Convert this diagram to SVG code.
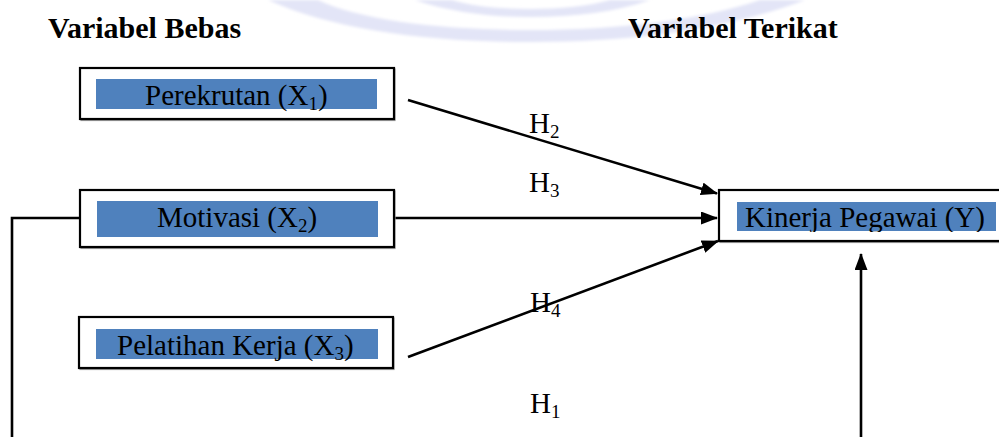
<svg xmlns="http://www.w3.org/2000/svg" width="999" height="437" viewBox="0 0 999 437">
  <style>
    .bg { fill: #ffffff; }
    .mark { fill: #e3e5f7; }
    .head { font-family: "Liberation Serif", "Times New Roman", serif; font-weight: bold; font-size: 30px; fill: #000; }
    .lbl { font-family: "Liberation Serif", "Times New Roman", serif; font-size: 29px; fill: #000; }
    .sub { font-size: 19px; }
    .frame { fill: #ffffff; stroke: #000; stroke-width: 2.2; }
    .shade { fill: none; stroke: #9a9a9a; stroke-width: 1.2; }
    .band { fill: #4f81bd; }
    .wire { fill: none; stroke: #000; stroke-width: 2.6; }
  </style>
  <defs>
    <marker id="arrow" markerUnits="userSpaceOnUse" markerWidth="18" markerHeight="14" refX="16" refY="6.5" orient="auto">
      <path d="M0,0 L17,6.5 L0,13 z" fill="#000"/>
    </marker>
    <clipPath id="clipY">
      <rect x="737" y="195" width="262" height="37"/>
    </clipPath>
    <filter id="soft" x="-5%" y="-20%" width="110%" height="140%">
      <feGaussianBlur stdDeviation="1.5"/>
    </filter>
  </defs>

  <rect class="bg" x="0" y="0" width="999" height="437"/>

  <!-- faint emblem behind the headings -->
  <g id="emblem" filter="url(#soft)">
    <path class="mark" d="M268,0 C330,28 420,42 530,42 C640,42 730,28 805,0 L760,0 C700,20 620,30 530,30 C440,30 360,20 318,0 Z"/>
    <path class="mark" d="M415,0 C450,12 490,17 530,17 C575,17 615,12 650,0 L610,0 C590,6 560,9 530,9 C500,9 470,6 452,0 Z"/>
  </g>

  <!-- column headings -->
  <text class="head" x="48" y="38">Variabel Bebas</text>
  <text class="head" x="628" y="38">Variabel Terikat</text>

  <!-- connectors -->
  <g id="connectors">
    <line class="wire" x1="408" y1="100" x2="717" y2="193.5" marker-end="url(#arrow)"/>
    <line class="wire" x1="394" y1="218" x2="717" y2="218" marker-end="url(#arrow)"/>
    <line class="wire" x1="408" y1="357" x2="718" y2="241" marker-end="url(#arrow)"/>
    <path class="wire" d="M80,218 H12 V437"/>
    <line class="wire" x1="861" y1="437" x2="861" y2="254" marker-end="url(#arrow)"/>
    <text class="lbl" x="529" y="133">H<tspan class="sub" dy="5">2</tspan></text>
    <text class="lbl" x="529" y="192">H<tspan class="sub" dy="5">3</tspan></text>
    <text class="lbl" x="530" y="312">H<tspan class="sub" dy="5">4</tspan></text>
    <text class="lbl" x="530" y="413">H<tspan class="sub" dy="5">1</tspan></text>
  </g>

  <g id="x1">
    <rect class="shade" x="81" y="69" width="314" height="51.5"/>
    <rect class="frame" x="80" y="68" width="314" height="51"/>
    <rect class="band" x="96" y="79" width="281" height="30"/>
    <text class="lbl" x="145" y="105">Perekrutan (X<tspan class="sub" dy="5">1</tspan><tspan dy="-5">)</tspan></text>
  </g>

  <g id="x2">
    <rect class="shade" x="81" y="191" width="314" height="57.5"/>
    <rect class="frame" x="80" y="190" width="314" height="57"/>
    <rect class="band" x="97" y="201" width="281" height="36"/>
    <text class="lbl" x="157" y="227">Motivasi (X<tspan class="sub" dy="5">2</tspan><tspan dy="-5">)</tspan></text>
  </g>

  <g id="x3">
    <rect class="shade" x="80" y="318" width="314" height="51.5"/>
    <rect class="frame" x="79" y="317" width="314" height="51"/>
    <rect class="band" x="96" y="329" width="282" height="30"/>
    <text class="lbl" x="117" y="355">Pelatihan Kerja (X<tspan class="sub" dy="5">3</tspan><tspan dy="-5">)</tspan></text>
  </g>

  <g id="y">
    <rect class="shade" x="720" y="191" width="290" height="51.5"/>
    <rect class="frame" x="719" y="190" width="290" height="51"/>
    <rect class="band" x="737" y="202" width="259" height="29"/>
    <text class="lbl" x="745" y="227" clip-path="url(#clipY)">Kinerja Pegawai (Y)</text>
  </g>
</svg>
